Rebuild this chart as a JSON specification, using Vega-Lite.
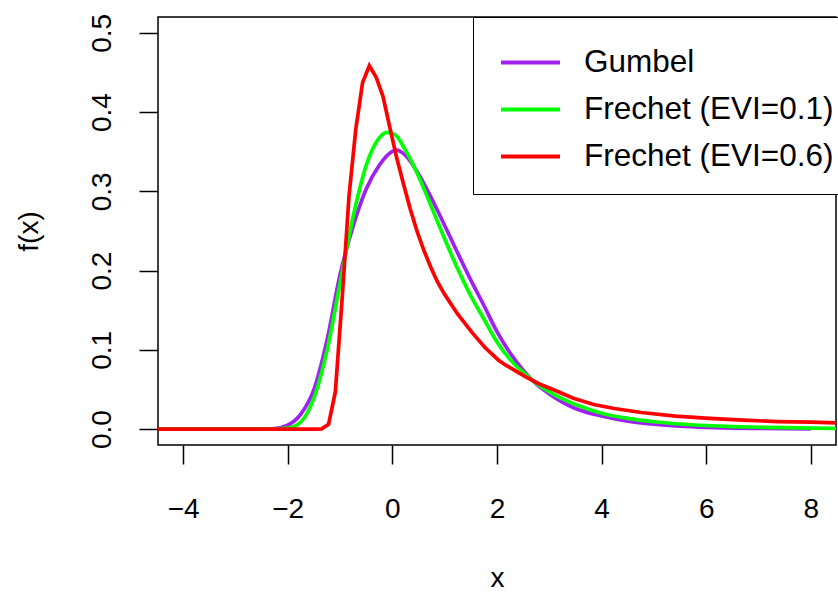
{
  "$schema": "https://vega.github.io/schema/vega-lite/v6.json",
  "width": 678,
  "height": 428,
  "autosize": {"type": "none"},
  "padding": {"left": 158, "top": 17, "right": 2, "bottom": 148},
  "background": "white",
  "config": {
    "font": "Liberation Sans",
    "view": {"stroke": "black", "strokeWidth": 1.5},
    "axis": {"grid": false, "domain": false, "tickColor": "black", "tickWidth": 1.5, "tickSize": 19, "labelFontSize": 28, "labelColor": "black", "labelFont": "Liberation Sans", "titleFontSize": 28, "titleFontWeight": "normal", "titleColor": "black", "titleFont": "Liberation Sans"}
  },
  "data": {"values": [
    {"d": "Gumbel", "x": -4.5, "f": 0},
    {"d": "Gumbel", "x": -3.0, "f": 0},
    {"d": "Gumbel", "x": -2.5, "f": 0.0001},
    {"d": "Gumbel", "x": -2.25, "f": 0.0008},
    {"d": "Gumbel", "x": -2.0, "f": 0.005},
    {"d": "Gumbel", "x": -1.75, "f": 0.019},
    {"d": "Gumbel", "x": -1.5, "f": 0.050},
    {"d": "Gumbel", "x": -1.25, "f": 0.112},
    {"d": "Gumbel", "x": -1.0, "f": 0.195},
    {"d": "Gumbel", "x": -0.75, "f": 0.256},
    {"d": "Gumbel", "x": -0.5, "f": 0.303},
    {"d": "Gumbel", "x": -0.25, "f": 0.333},
    {"d": "Gumbel", "x": 0.0, "f": 0.3505},
    {"d": "Gumbel", "x": 0.08, "f": 0.352},
    {"d": "Gumbel", "x": 0.25, "f": 0.3455},
    {"d": "Gumbel", "x": 0.5, "f": 0.322},
    {"d": "Gumbel", "x": 0.75, "f": 0.291},
    {"d": "Gumbel", "x": 1.0, "f": 0.257},
    {"d": "Gumbel", "x": 1.25, "f": 0.222},
    {"d": "Gumbel", "x": 1.5, "f": 0.188},
    {"d": "Gumbel", "x": 1.75, "f": 0.156},
    {"d": "Gumbel", "x": 2.0, "f": 0.123},
    {"d": "Gumbel", "x": 2.25, "f": 0.096},
    {"d": "Gumbel", "x": 2.5, "f": 0.0745},
    {"d": "Gumbel", "x": 2.75, "f": 0.057},
    {"d": "Gumbel", "x": 3.0, "f": 0.0445},
    {"d": "Gumbel", "x": 3.5, "f": 0.026},
    {"d": "Gumbel", "x": 4.0, "f": 0.0165},
    {"d": "Gumbel", "x": 4.5, "f": 0.0100},
    {"d": "Gumbel", "x": 5.0, "f": 0.0062},
    {"d": "Gumbel", "x": 5.5, "f": 0.0038},
    {"d": "Gumbel", "x": 6.0, "f": 0.0023},
    {"d": "Gumbel", "x": 6.5, "f": 0.0014},
    {"d": "Gumbel", "x": 7.0, "f": 0.0009},
    {"d": "Gumbel", "x": 7.5, "f": 0.0005},
    {"d": "Gumbel", "x": 8.0, "f": 0.0003},
    {"d": "Frechet (EVI=0.1)", "x": -4.5, "f": 0},
    {"d": "Frechet (EVI=0.1)", "x": -2.5, "f": 0},
    {"d": "Frechet (EVI=0.1)", "x": -2.25, "f": 0.0001},
    {"d": "Frechet (EVI=0.1)", "x": -2.0, "f": 0.0012},
    {"d": "Frechet (EVI=0.1)", "x": -1.75, "f": 0.009},
    {"d": "Frechet (EVI=0.1)", "x": -1.5, "f": 0.039},
    {"d": "Frechet (EVI=0.1)", "x": -1.25, "f": 0.099},
    {"d": "Frechet (EVI=0.1)", "x": -1.0, "f": 0.184},
    {"d": "Frechet (EVI=0.1)", "x": -0.75, "f": 0.268},
    {"d": "Frechet (EVI=0.1)", "x": -0.5, "f": 0.333},
    {"d": "Frechet (EVI=0.1)", "x": -0.25, "f": 0.3675},
    {"d": "Frechet (EVI=0.1)", "x": -0.1, "f": 0.3745},
    {"d": "Frechet (EVI=0.1)", "x": 0.05, "f": 0.3715},
    {"d": "Frechet (EVI=0.1)", "x": 0.25, "f": 0.352},
    {"d": "Frechet (EVI=0.1)", "x": 0.5, "f": 0.319},
    {"d": "Frechet (EVI=0.1)", "x": 0.75, "f": 0.280},
    {"d": "Frechet (EVI=0.1)", "x": 1.0, "f": 0.240},
    {"d": "Frechet (EVI=0.1)", "x": 1.25, "f": 0.202},
    {"d": "Frechet (EVI=0.1)", "x": 1.5, "f": 0.168},
    {"d": "Frechet (EVI=0.1)", "x": 1.75, "f": 0.139},
    {"d": "Frechet (EVI=0.1)", "x": 2.0, "f": 0.110},
    {"d": "Frechet (EVI=0.1)", "x": 2.25, "f": 0.088},
    {"d": "Frechet (EVI=0.1)", "x": 2.5, "f": 0.0715},
    {"d": "Frechet (EVI=0.1)", "x": 2.75, "f": 0.058},
    {"d": "Frechet (EVI=0.1)", "x": 3.0, "f": 0.047},
    {"d": "Frechet (EVI=0.1)", "x": 3.5, "f": 0.031},
    {"d": "Frechet (EVI=0.1)", "x": 4.0, "f": 0.020},
    {"d": "Frechet (EVI=0.1)", "x": 4.5, "f": 0.0135},
    {"d": "Frechet (EVI=0.1)", "x": 5.0, "f": 0.0093},
    {"d": "Frechet (EVI=0.1)", "x": 5.5, "f": 0.0065},
    {"d": "Frechet (EVI=0.1)", "x": 6.0, "f": 0.0046},
    {"d": "Frechet (EVI=0.1)", "x": 6.5, "f": 0.0033},
    {"d": "Frechet (EVI=0.1)", "x": 7.0, "f": 0.0024},
    {"d": "Frechet (EVI=0.1)", "x": 7.5, "f": 0.0018},
    {"d": "Frechet (EVI=0.1)", "x": 8.0, "f": 0.0013},
    {"d": "Frechet (EVI=0.1)", "x": 8.5, "f": 0.0010},
    {"d": "Frechet (EVI=0.6)", "x": -4.5, "f": 0},
    {"d": "Frechet (EVI=0.6)", "x": -1.48, "f": 0},
    {"d": "Frechet (EVI=0.6)", "x": -1.35, "f": 0.0003},
    {"d": "Frechet (EVI=0.6)", "x": -1.22, "f": 0.006},
    {"d": "Frechet (EVI=0.6)", "x": -1.09, "f": 0.047},
    {"d": "Frechet (EVI=0.6)", "x": -0.96, "f": 0.165},
    {"d": "Frechet (EVI=0.6)", "x": -0.83, "f": 0.293},
    {"d": "Frechet (EVI=0.6)", "x": -0.70, "f": 0.378},
    {"d": "Frechet (EVI=0.6)", "x": -0.57, "f": 0.437},
    {"d": "Frechet (EVI=0.6)", "x": -0.44, "f": 0.4586},
    {"d": "Frechet (EVI=0.6)", "x": -0.31, "f": 0.444},
    {"d": "Frechet (EVI=0.6)", "x": -0.18, "f": 0.420},
    {"d": "Frechet (EVI=0.6)", "x": -0.05, "f": 0.381},
    {"d": "Frechet (EVI=0.6)", "x": 0.08, "f": 0.343},
    {"d": "Frechet (EVI=0.6)", "x": 0.21, "f": 0.310},
    {"d": "Frechet (EVI=0.6)", "x": 0.34, "f": 0.278},
    {"d": "Frechet (EVI=0.6)", "x": 0.47, "f": 0.250},
    {"d": "Frechet (EVI=0.6)", "x": 0.60, "f": 0.226},
    {"d": "Frechet (EVI=0.6)", "x": 0.73, "f": 0.205},
    {"d": "Frechet (EVI=0.6)", "x": 0.86, "f": 0.186},
    {"d": "Frechet (EVI=0.6)", "x": 0.99, "f": 0.171},
    {"d": "Frechet (EVI=0.6)", "x": 1.12, "f": 0.158},
    {"d": "Frechet (EVI=0.6)", "x": 1.25, "f": 0.145},
    {"d": "Frechet (EVI=0.6)", "x": 1.38, "f": 0.134},
    {"d": "Frechet (EVI=0.6)", "x": 1.51, "f": 0.123},
    {"d": "Frechet (EVI=0.6)", "x": 1.64, "f": 0.113},
    {"d": "Frechet (EVI=0.6)", "x": 1.77, "f": 0.103},
    {"d": "Frechet (EVI=0.6)", "x": 1.90, "f": 0.095},
    {"d": "Frechet (EVI=0.6)", "x": 2.03, "f": 0.087},
    {"d": "Frechet (EVI=0.6)", "x": 2.16, "f": 0.081},
    {"d": "Frechet (EVI=0.6)", "x": 2.29, "f": 0.076},
    {"d": "Frechet (EVI=0.6)", "x": 2.42, "f": 0.071},
    {"d": "Frechet (EVI=0.6)", "x": 2.55, "f": 0.066},
    {"d": "Frechet (EVI=0.6)", "x": 2.81, "f": 0.057},
    {"d": "Frechet (EVI=0.6)", "x": 3.07, "f": 0.050},
    {"d": "Frechet (EVI=0.6)", "x": 3.46, "f": 0.039},
    {"d": "Frechet (EVI=0.6)", "x": 3.85, "f": 0.031},
    {"d": "Frechet (EVI=0.6)", "x": 4.24, "f": 0.026},
    {"d": "Frechet (EVI=0.6)", "x": 4.76, "f": 0.021},
    {"d": "Frechet (EVI=0.6)", "x": 5.41, "f": 0.0165},
    {"d": "Frechet (EVI=0.6)", "x": 6.06, "f": 0.0135},
    {"d": "Frechet (EVI=0.6)", "x": 6.71, "f": 0.0113},
    {"d": "Frechet (EVI=0.6)", "x": 7.36, "f": 0.0096},
    {"d": "Frechet (EVI=0.6)", "x": 8.01, "f": 0.0088},
    {"d": "Frechet (EVI=0.6)", "x": 8.53, "f": 0.0079}
  ]},
  "encoding": {
    "x": {"field": "x", "type": "quantitative",
      "scale": {"domain": [-4.48, 8.48], "nice": false, "zero": false},
      "axis": {"values": [-4, -2, 0, 2, 4, 6, 8], "title": "x", "labelPadding": 31, "titlePadding": 41, "labelFlush": false, "labelOverlap": false}},
    "y": {"field": "f", "type": "quantitative",
      "scale": {"domain": [-0.02, 0.52], "nice": false, "zero": false},
      "axis": {"values": [0, 0.1, 0.2, 0.3, 0.4, 0.5], "format": ".1f", "title": "f(x)", "labelAngle": -90, "labelAlign": "center", "labelBaseline": "bottom", "labelPadding": 23, "titlePadding": 45, "labelOverlap": false}},
    "color": {"field": "d", "type": "nominal",
      "scale": {"domain": ["Gumbel", "Frechet (EVI=0.1)", "Frechet (EVI=0.6)"], "range": ["#A020F0", "#00FF00", "#FF0000"]},
      "legend": {"title": " ", "titleOrient": "bottom", "titleFontSize": 8, "titlePadding": 0, "orient": "none", "legendX": 315, "legendY": 0, "padding": 14, "fillColor": "white", "strokeColor": "black", "symbolType": "stroke", "symbolSize": 3481, "symbolStrokeWidth": 4, "labelFontSize": 31.5, "labelFont": "Liberation Sans", "labelColor": "black", "rowPadding": -33, "symbolOffset": 12, "labelOffset": 22, "labelLimit": 500, "cornerRadius": 0}}
  },
  "layer": [
    {"transform": [{"filter": "datum.d === 'Gumbel'"}], "mark": {"type": "line", "strokeWidth": 3.7, "interpolate": "monotone", "clip": true}},
    {"transform": [{"filter": "datum.d === 'Frechet (EVI=0.1)'"}], "mark": {"type": "line", "strokeWidth": 3.7, "interpolate": "monotone", "clip": true}},
    {"transform": [{"filter": "datum.d === 'Frechet (EVI=0.6)'"}], "mark": {"type": "line", "strokeWidth": 3.7, "interpolate": "linear", "clip": true}}
  ]
}
